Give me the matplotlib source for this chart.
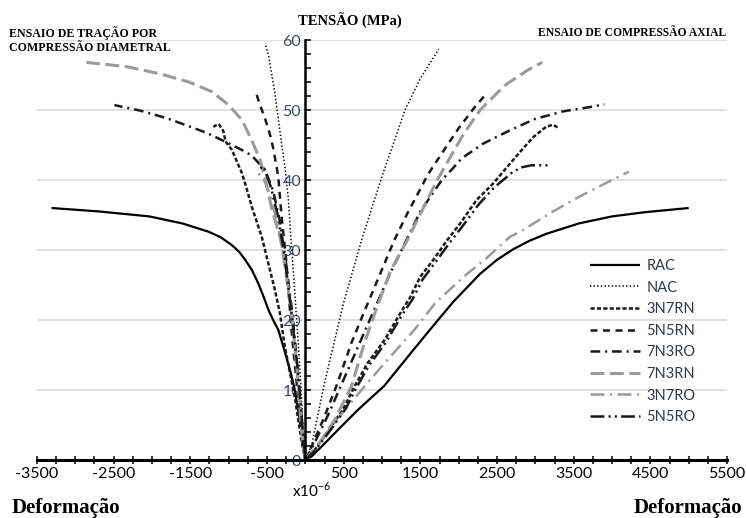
import numpy as np
import matplotlib
matplotlib.use("Agg")
import matplotlib.pyplot as plt
from matplotlib.ticker import FixedLocator, MultipleLocator

plt.rcParams['lines.scale_dashes'] = False

# strain (x10^-6) and stress (MPa); "tr" = diametral compression (tension), "cp" = axial compression
rac_tr_x = [0, -52, -95, -138, -180, -224, -290, -353, -420, -483, -540, -612, -700, -785, -860,
            -958, -1100, -1259, -1605, -2036, -2683, -3310]
rac_tr_y = [0, 4.3, 7.2, 10, 12, 13.8, 16.3, 18.6, 20, 21.5, 23.2, 25.2, 27.2, 28.6, 29.7,
            30.7, 31.8, 32.6, 33.8, 34.8, 35.5, 36]
rac_cp_x = [0, 80, 210, 470, 680, 1030, 1370, 1670, 1930, 2280, 2500, 2710, 2920, 3140, 3570,
            4000, 4430, 5000]
rac_cp_y = [0, 0.5, 1.9, 4.8, 7.1, 10.6, 15.2, 19.2, 22.6, 26.6, 28.6, 30.1, 31.3, 32.3, 33.8,
            34.8, 35.4, 36]

nac_tr_x = [0, -30, -60, -100, -150, -190, -224, -268, -310, -397, -483, -526]
nac_tr_y = [0, 4.3, 11, 18, 26, 32, 37.6, 42, 45.2, 52.4, 58, 59.5]
nac_cp_x = [0, 80, 250, 500, 750, 1000, 1300, 1500, 1740]
nac_cp_y = [0, 2, 11, 22.5, 32, 40.5, 50, 54.5, 58.7]

n3r7n_tr_x = [0, -52, -138, -268, -332, -397, -483, -569, -699, -785, -828, -958, -1040, -1070, -1130, -1200]
n3r7n_tr_y = [0, 2.9, 9, 16.2, 21, 24.3, 28.1, 31.9, 36.2, 39.5, 41, 44.3, 45.5, 47, 48, 47.6]
n3r7n_cp_x = [0, 120, 340, 510, 640, 810, 1030, 1240, 1370, 1500, 1670, 1850, 2020, 2230, 2450,
              2620, 2800, 2970, 3140, 3230, 3290]
n3r7n_cp_y = [0, 1.4, 4.8, 7.6, 10.5, 13.8, 17.1, 21, 23.3, 26.2, 28.6, 31.4, 33.8, 37.1, 39.5,
              41.7, 44, 46.1, 47.6, 47.9, 47.5]

n5r5n_tr_x = [0, -30, -95, -181, -246, -310, -353, -418, -461, -526, -591, -656]
n5r5n_tr_y = [0, 1.9, 9, 18.6, 28.1, 34.8, 40.5, 44.5, 46.5, 48.8, 50.7, 52.9]
n5r5n_cp_x = [0, 80, 250, 420, 600, 780, 980, 1160, 1330, 1600, 1780, 2000, 2230, 2370]
n5r5n_cp_y = [0, 1.9, 6.2, 11, 16.7, 21.5, 26.7, 31.4, 35.2, 40.8, 43.8, 47.4, 50.7, 52.4]

n7r3o_tr_x = [0, -40, -100, -170, -250, -330, -420, -530, -700, -830, -1050, -1280, -1450, -1800, -2150, -2490]
n7r3o_tr_y = [0, 5, 13, 21, 28, 34, 38.5, 41.5, 43.5, 44.3, 45.5, 46.7, 47.4, 48.8, 49.9, 50.7]
n7r3o_cp_x = [0, 100, 300, 500, 700, 900, 1100, 1300, 1500, 1780, 1910, 2040, 2320, 2670, 2990, 3360, 3700, 3900]
n7r3o_cp_y = [0, 2, 6.5, 11.5, 16.5, 21.5, 26.5, 31, 35.5, 40, 41.5, 43.1, 45.2, 47.1, 48.7, 49.8, 50.4, 50.8]

n7r3n_tr_x = [0, -52, -95, -181, -230, -310, -440, -520, -590, -700, -828, -1000, -1216, -1518, -1906, -2338, -2855]
n7r3n_tr_y = [0, 4.3, 11.4, 21, 25, 31, 36, 40, 42.9, 45.7, 48.6, 50.7, 52.6, 54, 55.2, 56.2, 56.8]
n7r3n_cp_x = [0, 120, 380, 600, 770, 940, 1110, 1330, 1720, 2060, 2280, 2600, 2900, 3090]
n7r3n_cp_y = [0, 1.4, 5.7, 10.5, 16.7, 22, 27, 31.4, 40, 46.5, 50, 53.5, 55.7, 56.8]

n3r7o_tr_x = [0, -40, -100, -170, -250, -350, -450, -540, -640]
n3r7o_tr_y = [0, 5, 12, 20, 27, 33, 37.5, 40, 41.3]
n3r7o_cp_x = [0, 210, 510, 810, 1070, 1415, 1700, 2100, 2360, 2670, 2800, 3230, 3570, 3660, 4000, 4220]
n3r7o_cp_y = [0, 2.9, 7.1, 11, 14.3, 18.5, 22.5, 26.5, 28.8, 31.9, 32.6, 35.5, 37.6, 38.1, 40, 41.2]

n5r5o_tr_x = [0, -40, -100, -180, -270, -360, -450, -530, -560, -590]
n5r5o_tr_y = [0, 5, 13, 21, 29, 35, 39, 41.5, 42, 41.5]
n5r5o_cp_x = [0, 130, 350, 530, 660, 830, 1050, 1260, 1400, 1530, 1700, 1880, 2050, 2260, 2470,
              2580, 2700, 2815, 2950, 3190]
n5r5o_cp_y = [0, 1.4, 4.6, 7.4, 10.2, 13.5, 16.8, 20.7, 23, 25.8, 28.3, 31, 33.4, 36.5, 39,
              40, 41.1, 41.8, 42.1, 42.1]

labels = ['RAC', 'NAC', '3N7RN', '5N5RN', '7N3RO', '7N3RN', '3N7RO', '5N5RO']
x_ticks = [-3500, -2500, -1500, -500, 500, 1500, 2500, 3500, 4500, 5500]

gray = '#9b9b9b'
styles = {
    'RAC':   dict(color='black', lw=1.6, ls='-'),
    'NAC':   dict(color='black', lw=1.1, ls=(0, (1, 1.6))),
    '3N7RN': dict(color='#1a1a1a', lw=1.8, ls=(0, (3, 1.6))),
    '5N5RN': dict(color='#1a1a1a', lw=1.8, ls=(0, (5, 4))),
    '7N3RO': dict(color='#1a1a1a', lw=1.8, ls=(0, (7, 3.5, 1.5, 3.5))),
    '7N3RN': dict(color=gray, lw=2.2, ls=(0, (10, 4))),
    '3N7RO': dict(color=gray, lw=1.8, ls=(0, (10, 4, 1.5, 4))),
    '5N5RO': dict(color='#1a1a1a', lw=1.8, ls=(0, (10, 3, 1.5, 3, 1.5, 3))),
}
curves = {
    'RAC': [(rac_tr_x, rac_tr_y), (rac_cp_x, rac_cp_y)],
    'NAC': [(nac_tr_x, nac_tr_y), (nac_cp_x, nac_cp_y)],
    '3N7RN': [(n3r7n_tr_x, n3r7n_tr_y), (n3r7n_cp_x, n3r7n_cp_y)],
    '5N5RN': [(n5r5n_tr_x, n5r5n_tr_y), (n5r5n_cp_x, n5r5n_cp_y)],
    '7N3RO': [(n7r3o_tr_x, n7r3o_tr_y), (n7r3o_cp_x, n7r3o_cp_y)],
    '7N3RN': [(n7r3n_tr_x, n7r3n_tr_y), (n7r3n_cp_x, n7r3n_cp_y)],
    '3N7RO': [(n3r7o_tr_x, n3r7o_tr_y), (n3r7o_cp_x, n3r7o_cp_y)],
    '5N5RO': [(n5r5o_tr_x, n5r5o_tr_y), (n5r5o_cp_x, n5r5o_cp_y)],
}

fig = plt.figure(figsize=(7.46, 5.18), dpi=100)
ax = fig.add_axes([37 / 746, 1 - 460 / 518, 690 / 746, 420 / 518])

handles = []
for name in labels:
    st = styles[name]
    for i, (xs, ys) in enumerate(curves[name]):
        line, = ax.plot(xs, ys, color=st['color'], lw=st['lw'], linestyle=st['ls'],
                        solid_capstyle='butt', dash_capstyle='butt', solid_joinstyle='round',
                        zorder=3)
        if i == 0:
            handles.append(line)

ax.set_xlim(-3500, 5500)
ax.set_ylim(0, 60)

for y in range(10, 61, 10):
    ax.axhline(y, color='#dcdcdc', lw=1.2, zorder=1)

for side in ['top', 'right']:
    ax.spines[side].set_visible(False)
ax.spines['left'].set_position(('data', 0))
ax.spines['left'].set_linewidth(1.8)
ax.spines['bottom'].set_linewidth(2.2)
ax.spines['left'].set_zorder(4)
ax.spines['bottom'].set_zorder(4)

ax.xaxis.set_major_locator(FixedLocator(x_ticks))
ax.xaxis.set_minor_locator(MultipleLocator(250))
ax.tick_params(axis='x', which='both', direction='inout', length=6, width=1.1,
               labelsize=11.5, pad=2)
ax.set_xticklabels([str(v) for v in x_ticks], fontfamily='Lato')

ax.yaxis.set_major_locator(MultipleLocator(10))
ax.yaxis.set_minor_locator(MultipleLocator(2))
ax.tick_params(axis='y', which='both', direction='in', length=4, width=1.1,
               labelsize=11.5, pad=3, labelcolor='#3e4a5c')
for lab in ax.get_yticklabels():
    lab.set_fontfamily('Lato')
ax.get_yticklabels()[0].set_color('#c87b2e')

leg = ax.legend(handles, labels, loc='upper left', bbox_to_anchor=(590 / 746, 1 - 259 / 518),
                bbox_transform=fig.transFigure, frameon=False, handlelength=3.4,
                handletextpad=0.45, labelspacing=0.52, borderpad=0, borderaxespad=0,
                prop={'family': 'Lato', 'size': 10.5})
for t in leg.get_texts():
    t.set_color('#333a44')

serif = 'Liberation Serif'
fig.text(298 / 746, 1 - 21 / 518, 'TENSÃO (MPa)', fontfamily=serif, fontweight='bold',
         fontsize=10.5, va='center', ha='left')
fig.text(9 / 746, 1 - 40 / 518, 'ENSAIO DE TRAÇÃO POR\nCOMPRESSÃO DIAMETRAL', fontfamily=serif,
         fontweight='bold', fontsize=8.6, va='center', ha='left', linespacing=1.25)
fig.text(726 / 746, 1 - 33 / 518, 'ENSAIO DE COMPRESSÃO AXIAL', fontfamily=serif,
         fontweight='bold', fontsize=8.4, va='center', ha='right')
fig.text(12 / 746, 1 - 508 / 518, 'Deformação', fontfamily=serif, fontweight='bold',
         fontsize=15, va='center', ha='left')
fig.text(742 / 746, 1 - 508 / 518, 'Deformação', fontfamily=serif, fontweight='bold',
         fontsize=15, va='center', ha='right')
fig.text(312 / 746, 1 - 490 / 518, r'x10$^{\mathdefault{-6}}$', fontfamily='Lato',
         fontsize=11, va='center', ha='center')

fig.savefig('out.png', dpi=100)
